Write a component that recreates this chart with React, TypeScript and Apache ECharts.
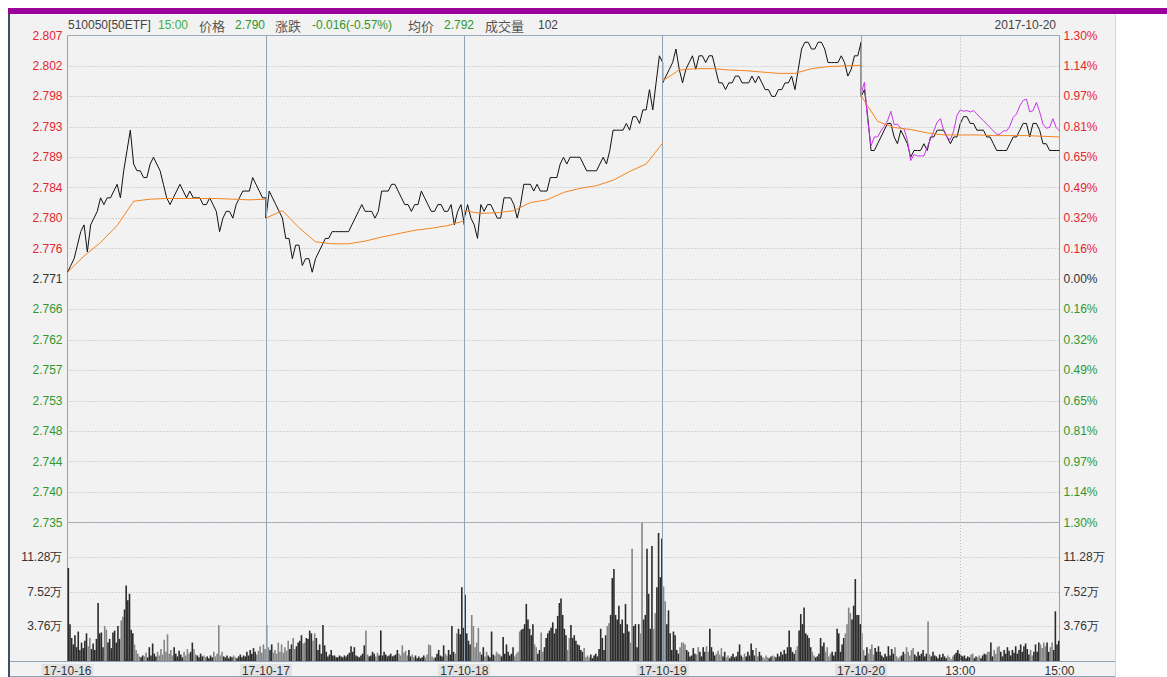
import React, { useEffect, useRef } from 'react';
import * as echarts from 'echarts';

// ---- scale constants ----
const BASE_PRICE = 2.771; // previous close (0.00%)
const TICK_STEP = 0.0045; // price per grid step
const DAY_MINUTES = 240;
const PRICE_STEP = 4; // minutes between price samples
const AVG_STEP = 20; // minutes between average samples
const VOL_STEP = 2; // minutes between volume samples

const LEFT_LABELS = ['2.735', '2.740', '2.744', '2.748', '2.753', '2.757', '2.762', '2.766', '2.771', '2.776', '2.780', '2.784', '2.789', '2.793', '2.798', '2.802', '2.807'];
const RIGHT_LABELS = ['1.30%', '1.14%', '0.97%', '0.81%', '0.65%', '0.49%', '0.32%', '0.16%', '0.00%', '0.16%', '0.32%', '0.49%', '0.65%', '0.81%', '0.97%', '1.14%', '1.30%'];
const VOL_MAX = 15.04;
const VOL_INTERVAL = 3.76;
const X_LABELS: Record<number, string> = { 0: '17-10-16', 240: '17-10-17', 480: '17-10-18', 720: '17-10-19', 960: '17-10-20', 1080: '13:00', 1200: '15:00' };

// ---- price (every 4 minutes, 61 per day) ----
const PRICE_D1 = [2.772, 2.773, 2.774, 2.776, 2.778, 2.779, 2.775, 2.779, 2.780, 2.781,
  2.783, 2.782, 2.783, 2.783, 2.784, 2.785, 2.783, 2.787, 2.790, 2.793,
  2.788, 2.787, 2.787, 2.786, 2.786, 2.788, 2.789, 2.788, 2.787, 2.785,
  2.783, 2.782, 2.783, 2.784, 2.785, 2.784, 2.783, 2.784, 2.783, 2.783,
  2.783, 2.782, 2.782, 2.783, 2.782, 2.781, 2.778, 2.780, 2.781, 2.781,
  2.780, 2.782, 2.783, 2.784, 2.784, 2.784, 2.786, 2.785, 2.784, 2.783,
  2.783];
const PRICE_D2 = [2.780, 2.784, 2.783, 2.782, 2.781, 2.780, 2.777, 2.777, 2.774, 2.776,
  2.776, 2.773, 2.774, 2.774, 2.772, 2.774, 2.775, 2.776, 2.777, 2.777,
  2.778, 2.778, 2.778, 2.778, 2.778, 2.778, 2.779, 2.780, 2.781, 2.782,
  2.781, 2.781, 2.781, 2.780, 2.781, 2.784, 2.784, 2.784, 2.785, 2.785,
  2.784, 2.783, 2.782, 2.782, 2.781, 2.782, 2.782, 2.784, 2.783, 2.782,
  2.781, 2.781, 2.782, 2.782, 2.781, 2.781, 2.782, 2.779, 2.781, 2.782,
  2.779];
const PRICE_D3 = [2.780, 2.782, 2.780, 2.779, 2.777, 2.782, 2.781, 2.782, 2.782, 2.781,
  2.780, 2.780, 2.783, 2.783, 2.783, 2.782, 2.780, 2.782, 2.785, 2.785,
  2.785, 2.784, 2.785, 2.784, 2.784, 2.784, 2.786, 2.786, 2.786, 2.788,
  2.789, 2.788, 2.789, 2.789, 2.789, 2.789, 2.788, 2.787, 2.787, 2.787,
  2.787, 2.788, 2.789, 2.788, 2.790, 2.793, 2.793, 2.793, 2.793, 2.794,
  2.793, 2.795, 2.795, 2.794, 2.796, 2.796, 2.799, 2.796, 2.800, 2.804,
  2.803];
const PRICE_D4 = [2.800, 2.801, 2.802, 2.803, 2.805, 2.802, 2.800, 2.802, 2.803, 2.804,
  2.802, 2.804, 2.804, 2.803, 2.804, 2.804, 2.802, 2.800, 2.800, 2.799,
  2.800, 2.800, 2.801, 2.801, 2.800, 2.800, 2.800, 2.801, 2.800, 2.801,
  2.800, 2.799, 2.799, 2.798, 2.798, 2.799, 2.799, 2.800, 2.800, 2.801,
  2.799, 2.802, 2.805, 2.806, 2.806, 2.805, 2.805, 2.806, 2.806, 2.805,
  2.803, 2.803, 2.803, 2.803, 2.804, 2.803, 2.801, 2.802, 2.804, 2.804,
  2.806];
const PRICE_D5 = [2.798, 2.799, 2.795, 2.790, 2.790, 2.791, 2.792, 2.793, 2.794, 2.794,
  2.792, 2.791, 2.793, 2.792, 2.791, 2.789, 2.790, 2.790, 2.790, 2.791,
  2.790, 2.792, 2.792, 2.793, 2.793, 2.793, 2.792, 2.791, 2.792, 2.792,
  2.794, 2.795, 2.795, 2.794, 2.794, 2.793, 2.793, 2.793, 2.792, 2.792,
  2.791, 2.790, 2.790, 2.790, 2.790, 2.791, 2.792, 2.792, 2.793, 2.794,
  2.794, 2.792, 2.794, 2.794, 2.793, 2.791, 2.791, 2.790, 2.790, 2.790,
  2.790];
const PRICE_DAYS = [PRICE_D1, PRICE_D2, PRICE_D3, PRICE_D4, PRICE_D5];

// ---- comparison line, last day only (every 4 minutes) ----
const COMPARE_D5 = [2.7984, 2.8001, 2.7944, 2.7907, 2.7920, 2.7920, 2.7929, 2.7936, 2.7944, 2.7958,
  2.7938, 2.7939, 2.7933, 2.7932, 2.7915, 2.7885, 2.7894, 2.7892, 2.7892, 2.7892,
  2.7905, 2.7917, 2.7929, 2.7942, 2.7947, 2.7929, 2.7919, 2.7916, 2.7929, 2.7952,
  2.7960, 2.7958, 2.7959, 2.7957, 2.7959, 2.7954, 2.7949, 2.7944, 2.7939, 2.7934,
  2.7929, 2.7924, 2.7924, 2.7929, 2.7929, 2.7936, 2.7949, 2.7954, 2.7966, 2.7974,
  2.7976, 2.7957, 2.7959, 2.7971, 2.7957, 2.7939, 2.7933, 2.7934, 2.7947, 2.7934,
  2.7929];

// ---- average price (every 20 minutes, 13 per day) ----
const AVG_D1 = [2.7720, 2.7744, 2.7764, 2.7789, 2.7825, 2.7828, 2.7829, 2.7829, 2.7829, 2.7829, 2.7828, 2.7827, 2.7828];
const AVG_D2 = [2.7800, 2.7811, 2.7786, 2.7765, 2.7762, 2.7762, 2.7766, 2.7772, 2.7777, 2.7782, 2.7785, 2.7789, 2.7796];
const AVG_D3 = [2.7811, 2.7807, 2.7808, 2.7811, 2.7823, 2.7827, 2.7838, 2.7844, 2.7848, 2.7856, 2.7869, 2.7880, 2.7911];
const AVG_D4 = [2.8003, 2.8019, 2.8021, 2.8021, 2.8019, 2.8018, 2.8016, 2.8014, 2.8014, 2.8021, 2.8024, 2.8025, 2.8026];
const AVG_D5 = [2.7981, 2.7943, 2.7934, 2.7931, 2.7926, 2.7923, 2.7923, 2.7923, 2.7922, 2.7922, 2.7922, 2.7921, 2.7920];
const AVG_DAYS = [AVG_D1, AVG_D2, AVG_D3, AVG_D4, AVG_D5];

// ---- volume in 万 (every 2 minutes, 120 per day) ----
const VOL_D1 = [10.1, 4.0, 2.5, 1.8, 2.8, 1.5, 3.2, 1.2, 2.0, 1.4,
  2.2, 3.0, 1.6, 2.5, 1.3, 1.9, 1.2, 2.4, 6.3, 3.0,
  3.1, 1.5, 3.8, 3.4, 2.0, 2.4, 1.4, 3.1, 3.3, 2.0,
  3.8, 2.4, 4.4, 4.8, 5.6, 8.2, 6.6, 7.3, 3.4, 3.0,
  1.8, 1.2, 0.8, 0.5, 0.4, 0.6, 0.5, 0.9, 0.4, 1.5,
  0.6, 1.9, 0.8, 0.5, 1.0, 0.6, 1.3, 0.7, 2.3, 1.0,
  2.9, 0.8, 1.2, 0.6, 1.5, 0.8, 0.5, 1.1, 0.7, 0.4,
  1.0, 0.6, 1.3, 0.8, 1.0, 2.0, 1.3, 0.7, 0.6, 0.4,
  0.8, 0.5, 0.6, 0.4, 0.5, 0.3, 0.6, 0.4, 1.0, 0.5,
  0.8, 3.9, 0.6, 1.0, 0.5, 0.4, 0.6, 0.3, 0.5, 0.4,
  0.6, 0.4, 0.3, 0.5, 0.7, 0.4, 0.6, 0.5, 1.0, 0.6,
  1.2, 0.8, 1.4, 1.0, 0.7, 1.1, 1.6, 0.9, 1.8, 1.3];
const VOL_D2 = [3.9, 1.5, 1.2, 1.8, 0.9, 1.2, 0.8, 2.0, 1.0, 1.8,
  0.9, 1.5, 1.1, 2.2, 1.3, 1.8, 2.5, 1.3, 1.6, 2.0,
  2.2, 2.8, 1.9, 2.0, 2.5, 2.4, 3.3, 3.0, 2.2, 3.0,
  2.5, 1.2, 1.8, 0.8, 3.9, 1.7, 1.0, 0.5, 0.7, 1.2,
  0.6, 0.6, 0.4, 0.4, 0.6, 0.5, 0.4, 0.6, 0.5, 0.7,
  0.9, 1.6, 1.0, 1.5, 0.6, 0.5, 0.4, 0.6, 0.8, 1.7,
  3.3, 0.7, 0.5, 0.6, 1.0, 0.8, 0.5, 0.9, 0.6, 3.3,
  0.6, 1.0, 0.7, 0.5, 0.6, 0.8, 0.5, 0.6, 0.7, 1.2,
  0.8, 0.6, 1.7, 0.9, 1.1, 0.6, 1.2, 0.5, 0.7, 0.4,
  0.6, 0.3, 0.5, 0.3, 0.4, 0.6, 0.4, 0.7, 1.8, 1.7,
  0.5, 0.3, 0.4, 0.8, 1.2, 0.6, 0.5, 1.7, 0.8, 0.6,
  1.2, 0.7, 3.8, 1.0, 0.8, 3.0, 3.5, 2.9, 8.0, 3.6];
const VOL_D3 = [7.2, 3.0, 2.2, 1.8, 5.0, 3.8, 1.5, 2.0, 3.6, 1.0,
  0.7, 1.5, 0.5, 1.0, 0.6, 0.4, 3.2, 0.7, 0.6, 1.0,
  0.8, 0.7, 0.5, 2.6, 0.8, 1.8, 1.0, 0.6, 0.8, 1.5,
  0.5, 0.8, 1.0, 3.2, 3.4, 3.5, 4.0, 6.2, 4.5, 3.5,
  2.8, 4.0, 1.8, 1.5, 0.8, 1.2, 3.1, 1.0, 1.5, 2.5,
  3.0, 3.3, 3.6, 4.2, 3.0, 3.5, 4.9, 6.3, 6.8, 5.0,
  3.5, 2.8, 1.2, 2.5, 3.9, 2.5, 2.8, 2.2, 1.8, 1.7,
  1.2, 1.0, 1.4, 0.4, 0.6, 0.4, 0.7, 0.3, 0.6, 0.8,
  0.5, 1.3, 3.5, 2.5, 1.2, 2.8, 3.8, 4.1, 5.0, 9.0,
  10.0, 5.0, 4.5, 6.0, 4.0, 4.5, 3.0, 6.2, 4.0, 3.2,
  2.0, 12.2, 3.8, 4.0, 1.5, 4.0, 3.0, 15.0, 4.5, 5.0,
  12.2, 7.3, 3.5, 12.5, 3.5, 5.2, 8.0, 13.9, 9.1, 13.3];
const VOL_D4 = [8.1, 6.5, 4.0, 5.5, 3.0, 1.2, 3.2, 2.8, 1.2, 0.8,
  1.5, 2.0, 2.0, 1.8, 1.2, 1.0, 0.5, 0.6, 1.4, 0.8,
  0.7, 1.5, 1.0, 0.5, 1.5, 1.0, 1.6, 1.0, 3.5, 1.5,
  1.0, 0.6, 0.8, 1.1, 0.7, 1.4, 0.5, 1.0, 0.4, 0.6,
  0.3, 0.5, 0.8, 0.4, 0.5, 1.0, 1.8, 0.6, 0.4, 0.8,
  0.5, 1.0, 0.6, 1.9, 1.2, 0.6, 1.4, 0.5, 1.0, 0.6,
  0.4, 0.3, 0.6, 0.4, 0.3, 0.5, 0.6, 0.5, 0.4, 0.8,
  0.5, 1.0, 0.7, 1.2, 0.8, 1.5, 3.3, 1.5, 1.0, 0.8,
  1.2, 1.6, 3.3, 5.1, 4.0, 5.8, 3.0, 2.8, 2.5, 1.5,
  1.0, 0.6, 0.4, 0.5, 0.8, 2.5, 1.6, 2.0, 1.0, 1.5,
  0.5, 0.8, 1.0, 0.6, 1.0, 3.5, 3.0, 1.0, 1.8, 2.5,
  3.0, 4.0, 5.8, 5.2, 4.5, 6.0, 8.9, 5.0, 5.0, 4.0];
const VOL_D5 = [3.0, 1.2, 0.6, 1.5, 0.8, 1.3, 1.8, 0.7, 1.4, 1.0,
  1.6, 1.0, 0.6, 0.4, 0.8, 0.5, 1.6, 0.6, 1.3, 0.8,
  1.5, 0.5, 0.3, 0.5, 0.6, 1.0, 0.8, 1.5, 1.0, 0.6,
  1.2, 1.4, 0.7, 0.5, 1.0, 0.6, 0.8, 1.2, 0.5, 0.8,
  4.3, 0.7, 0.5, 1.0, 0.6, 0.5, 0.3, 0.7, 0.4, 0.8,
  0.5, 0.3, 0.6, 0.4, 0.2, 0.5, 0.7, 0.9, 1.2, 0.8,
  0.6, 0.5, 0.6, 0.3, 0.5, 0.4, 0.7, 0.8, 0.3, 0.5,
  0.4, 0.6, 0.3, 0.6, 0.8, 0.7, 1.0, 1.0, 2.0, 0.5,
  1.2, 0.8, 1.5, 1.6, 1.0, 0.5, 1.2, 0.8, 1.5, 1.1,
  0.6, 1.2, 0.9, 1.6, 0.8, 1.2, 1.8, 1.0, 1.6, 1.9,
  1.3, 0.7, 1.2, 0.6, 1.0, 1.8, 1.0, 2.0, 1.8, 1.4,
  2.0, 1.6, 2.0, 1.0, 1.5, 2.0, 1.2, 5.4, 1.8, 2.2];
const VOL_DAYS = [VOL_D1, VOL_D2, VOL_D3, VOL_D4, VOL_D5];

// ---- header ----
const HEADER = [
  { text: '510050[50ETF]', x: 68, color: '#444444', cjk: false },
  { text: '15:00', x: 158, color: '#3fb03f', cjk: false },
  { text: '价格', x: 199, color: '#555555', cjk: true },
  { text: '2.790', x: 235, color: '#2e962e', cjk: false },
  { text: '涨跌', x: 275, color: '#555555', cjk: true },
  { text: '-0.016(-0.57%)', x: 312, color: '#2e962e', cjk: false },
  { text: '均价', x: 408, color: '#555555', cjk: true },
  { text: '2.792', x: 444, color: '#2e962e', cjk: false },
  { text: '成交量', x: 485, color: '#555555', cjk: true },
  { text: '102', x: 538, color: '#444444', cjk: false },
];
const HEADER_DATE = '2017-10-20';

const RED = '#e4262f';
const GREEN = '#2f982f';
const GRAY = '#333333';
const FRAME = '#8ea3b6';
const DOT = '#b9b9b9';
const LATIN = '"Liberation Sans", Arial, sans-serif';
const CJK = '"Noto Sans CJK SC", sans-serif';

const toAxis = (p: number) => (p - BASE_PRICE) / TICK_STEP;

function buildOption() {
  const priceData: number[][] = [];
  PRICE_DAYS.forEach((day, d) => day.forEach((p, k) => priceData.push([d * DAY_MINUTES + k * PRICE_STEP, toAxis(p)])));

  const avgData: any[] = [];
  AVG_DAYS.forEach((day, d) => {
    if (d > 0) avgData.push([d * DAY_MINUTES, '-']);
    day.forEach((p, k) => avgData.push([d * DAY_MINUTES + k * AVG_STEP, toAxis(p)]));
  });

  const compareData = COMPARE_D5.map((p, k) => [4 * DAY_MINUTES + k * PRICE_STEP, toAxis(p)]);

  const volData: any[] = [];
  VOL_DAYS.forEach((day, d) => day.forEach((v, k) => {
    const m = k * VOL_STEP + 1;
    const pi = Math.floor(m / PRICE_STEP);
    const cur = PRICE_DAYS[d][pi];
    const prev = pi > 0 ? PRICE_DAYS[d][pi - 1] : d > 0 ? PRICE_DAYS[d - 1][PRICE_DAYS[d - 1].length - 1] : cur;
    volData.push({ value: [d * DAY_MINUTES + m, v], itemStyle: { color: cur >= prev ? '#2b2b2b' : '#858585' } });
  }));

  const sepData: any[] = [DAY_MINUTES, 2 * DAY_MINUTES, 3 * DAY_MINUTES, 4 * DAY_MINUTES].map((x) => ({ xAxis: x }));
  sepData.push({ xAxis: 4 * DAY_MINUTES + 120, lineStyle: { color: DOT, type: [1, 2], width: 1 } });
  const markLine = {
    silent: true,
    symbol: 'none',
    label: { show: false },
    lineStyle: { color: FRAME, width: 1, type: 'solid' },
    data: sepData,
  };

  const priceColor = (v: any) => {
    const n = Number(v);
    return n > 0.01 ? RED : n < -0.01 ? GREEN : GRAY;
  };
  const idx = (v: any) => Math.round(Number(v)) + 8;
  const volLabel = (v: number) => (v > 0.1 && v < VOL_MAX - 0.1 ? v.toFixed(2) + '万' : '');

  const graphics: any[] = HEADER.map((h) => ({
    type: 'text',
    x: h.x,
    y: 25,
    z: 100,
    style: {
      text: h.text,
      fill: h.color,
      font: h.cjk ? `13px ${CJK}` : `12px ${LATIN}`,
      verticalAlign: 'middle',
      textVerticalAlign: 'middle',
    },
  }));
  graphics.push({
    type: 'text', x: 1056, y: 25, z: 100,
    style: { text: HEADER_DATE, fill: '#444444', font: `12px ${LATIN}`, align: 'right', textAlign: 'right', verticalAlign: 'middle', textVerticalAlign: 'middle' },
  });
  graphics.push({ type: 'line', z: 100, shape: { x1: 10, y1: 661.5, x2: 1115, y2: 661.5 }, style: { stroke: FRAME, lineWidth: 1 } });
  graphics.push({ type: 'line', z: 100, shape: { x1: 10, y1: 676.5, x2: 1115, y2: 676.5 }, style: { stroke: FRAME, lineWidth: 1 } });
  graphics.push({ type: 'line', z: 100, shape: { x1: 1115.5, y1: 14, x2: 1115.5, y2: 677 }, style: { stroke: '#d4d4d4', lineWidth: 1 } });

  const hiddenAxis = { axisLine: { show: false }, axisTick: { show: false }, splitLine: { show: false } };
  const dottedSplit = { show: true, lineStyle: { color: DOT, type: [1, 2], width: 1 } };

  return {
    animation: false,
    backgroundColor: 'transparent',
    textStyle: { fontFamily: LATIN },
    graphic: { elements: graphics },
    grid: [
      { left: 67.5, right: 107.5, top: 35.5, height: 487, show: true, borderColor: FRAME, borderWidth: 1, backgroundColor: 'transparent' },
      { left: 67.5, right: 107.5, top: 522.5, height: 139, show: true, borderColor: FRAME, borderWidth: 1, backgroundColor: 'transparent' },
    ],
    xAxis: [
      { type: 'value', gridIndex: 0, min: 0, max: 5 * DAY_MINUTES, interval: 120, ...hiddenAxis, axisLabel: { show: false } },
      {
        type: 'value', gridIndex: 1, min: 0, max: 5 * DAY_MINUTES, interval: 120, ...hiddenAxis,
        axisLabel: {
          margin: 3,
          showMinLabel: true,
          showMaxLabel: true,
          formatter: (v: number) => {
            const s = X_LABELS[Math.round(v)];
            if (!s) return '';
            return s.indexOf(':') >= 0 ? `{t|${s}}` : `{d|${s}}`;
          },
          rich: {
            d: { backgroundColor: '#e2e2e2', padding: [1, 2, 0, 2], color: '#333333', fontSize: 12, fontFamily: LATIN },
            t: { color: '#333333', fontSize: 12, fontFamily: LATIN, padding: [1, 0, 0, 0] },
          },
        },
      },
    ],
    yAxis: [
      {
        type: 'value', gridIndex: 0, position: 'left', min: -8, max: 8, interval: 1,
        axisLine: { show: false }, axisTick: { show: false },
        splitLine: dottedSplit,
        axisLabel: { margin: 5, fontSize: 12, formatter: (v: any) => LEFT_LABELS[idx(v)] ?? '', color: priceColor },
      },
      {
        type: 'value', gridIndex: 0, position: 'right', min: -8, max: 8, interval: 1, ...hiddenAxis,
        axisLabel: { margin: 4, fontSize: 12, formatter: (v: any) => RIGHT_LABELS[idx(v)] ?? '', color: priceColor },
      },
      {
        type: 'value', gridIndex: 1, position: 'left', min: 0, max: VOL_MAX, interval: VOL_INTERVAL,
        axisLine: { show: false }, axisTick: { show: false },
        splitLine: dottedSplit,
        axisLabel: { margin: 5, fontSize: 12, color: '#333333', formatter: volLabel },
      },
      {
        type: 'value', gridIndex: 1, position: 'right', min: 0, max: VOL_MAX, interval: VOL_INTERVAL, ...hiddenAxis,
        axisLabel: { margin: 4, fontSize: 12, color: '#333333', formatter: volLabel },
      },
    ],
    series: [
      {
        name: '价格', type: 'line', xAxisIndex: 0, yAxisIndex: 0, data: priceData,
        symbol: 'none', lineStyle: { color: '#111111', width: 1 }, itemStyle: { color: '#111111' },
        markLine, z: 3,
      },
      {
        name: '对比', type: 'line', xAxisIndex: 0, yAxisIndex: 0, data: compareData,
        symbol: 'none', lineStyle: { color: '#cc33ee', width: 1 }, itemStyle: { color: '#cc33ee' }, z: 4,
      },
      {
        name: '均价', type: 'line', xAxisIndex: 0, yAxisIndex: 0, data: avgData, connectNulls: false,
        symbol: 'none', lineStyle: { color: '#f5841f', width: 1 }, itemStyle: { color: '#f5841f' }, z: 5,
      },
      {
        name: '成交量', type: 'bar', xAxisIndex: 1, yAxisIndex: 2, data: volData,
        barWidth: 1.6, markLine, z: 3,
      },
    ],
  };
}

export default function App() {
  const ref = useRef<HTMLDivElement>(null);
  useEffect(() => {
    if (!ref.current) return;
    const chart = echarts.init(ref.current, undefined, { renderer: 'svg' });
    chart.setOption(buildOption() as any);
    return () => chart.dispose();
  }, []);
  return (
    <div style={{ position: 'fixed', left: 0, top: 0, width: 1167, height: 677, background: '#ffffff', overflow: 'hidden' }}>
      <div style={{ position: 'absolute', left: 9, top: 14, width: 1106, height: 663, background: '#f2f2f2' }} />
      <div style={{ position: 'absolute', left: 8, top: 8, width: 1159, height: 6, background: '#990099' }} />
      <div style={{ position: 'absolute', left: 8, top: 14, width: 2, height: 663, background: '#3e4d6a' }} />
      <div ref={ref} style={{ position: 'absolute', left: 0, top: 0, width: 1167, height: 677 }} />
    </div>
  );
}
